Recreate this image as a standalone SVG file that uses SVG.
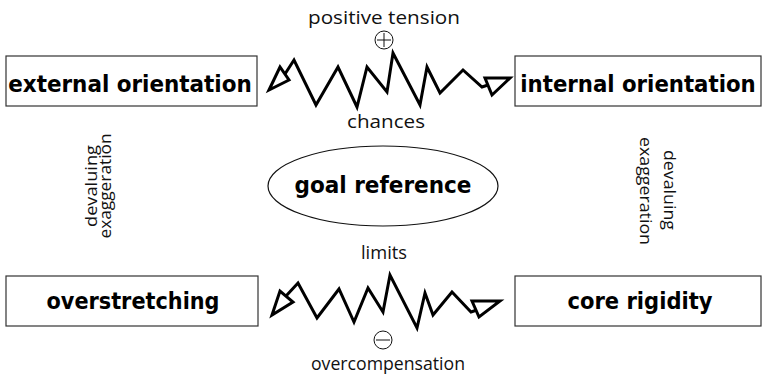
<svg xmlns="http://www.w3.org/2000/svg" width="764" height="377" viewBox="0 0 764 377">
<style>
.box{fill:#fff;stroke:#333;stroke-width:1.2}
.b{font-family:"DejaVu Sans",sans-serif;font-weight:bold;font-size:23px;fill:#000}
.t{font-family:"Open Sans","DejaVu Sans",sans-serif;font-weight:400;font-size:19px;fill:#111}
.v{font-family:"Open Sans","DejaVu Sans",sans-serif;font-weight:400;font-size:17px;fill:#111}
.zz{fill:none;stroke:#000;stroke-width:3;stroke-linejoin:miter}
.ah{fill:#fff;stroke:#000;stroke-width:3;stroke-linejoin:miter}
.sym{fill:none;stroke:#111;stroke-width:1}
</style>
<rect width="764" height="377" fill="#fff"/>
<g id="external-orientation">
<rect class="box" x="6" y="56" width="251" height="50"/>
<text class="b" transform="translate(130,92) scale(0.82,1)" x="0" y="0" text-anchor="middle" textLength="297" lengthAdjust="spacingAndGlyphs">external orientation</text>
</g>
<g id="internal-orientation">
<rect class="box" x="515" y="56" width="246" height="50"/>
<text class="b" transform="translate(638,92) scale(0.82,1)" x="0" y="0" text-anchor="middle" textLength="287" lengthAdjust="spacingAndGlyphs">internal orientation</text>
</g>
<g id="overstretching">
<rect class="box" x="6" y="276" width="252" height="50"/>
<text class="b" x="133" y="309" text-anchor="middle" textLength="173" lengthAdjust="spacingAndGlyphs">overstretching</text>
</g>
<g id="core-rigidity">
<rect class="box" x="515" y="276" width="246" height="50"/>
<text class="b" x="640" y="309" text-anchor="middle" textLength="145" lengthAdjust="spacingAndGlyphs">core rigidity</text>
</g>
<g id="goal-reference">
<ellipse cx="383" cy="186" rx="115" ry="40" fill="#fff" stroke="#111" stroke-width="1.2"/>
<text class="b" x="383" y="193" text-anchor="middle" textLength="177" lengthAdjust="spacingAndGlyphs">goal reference</text>
</g>
<g id="connectors">
<polyline class="zz" points="285,74 294,60 316,105 338,67 357,107 367,67 387,92 393,53 420,105 427,67 440,93 463,70 482,87 488,85"/>
<polygon class="ah" points="269,90 280,67 289,80"/>
<polygon class="ah" points="485,78 510,78 492,95"/>
<polyline class="zz" points="286,296 298,283 317,318 339,289 354,322 368,288 383,312 390,275 417,328 425,293 433,315 452,292 471,312 477,310"/>
<polygon class="ah" points="272,315 280,291 293,302"/>
<polygon class="ah" points="472,301 500,301 479,317"/>
</g>
<g id="labels">
<text class="t" x="384" y="24" text-anchor="middle" textLength="152" lengthAdjust="spacingAndGlyphs">positive tension</text>
<circle class="sym" cx="384" cy="40" r="9"/>
<path class="sym" d="M384 33V47M377 40H391"/>
<text class="t" x="386" y="128" text-anchor="middle" textLength="78" lengthAdjust="spacingAndGlyphs">chances</text>
<text class="t" x="384" y="259" text-anchor="middle" textLength="46" lengthAdjust="spacingAndGlyphs">limits</text>
<circle class="sym" cx="383" cy="340" r="9"/>
<path class="sym" d="M376 340H390"/>
<text class="t" x="388" y="370" text-anchor="middle" textLength="154" lengthAdjust="spacingAndGlyphs">overcompensation</text>
<text class="v" transform="translate(97,186) rotate(-90)" text-anchor="middle" textLength="82" lengthAdjust="spacingAndGlyphs">devaluing</text>
<text class="v" transform="translate(111,186) rotate(-90)" text-anchor="middle" textLength="105" lengthAdjust="spacingAndGlyphs">exaggeration</text>
<text class="v" transform="translate(664,190) rotate(90)" text-anchor="middle" textLength="80" lengthAdjust="spacingAndGlyphs">devaluing</text>
<text class="v" transform="translate(640,191) rotate(90)" text-anchor="middle" textLength="108" lengthAdjust="spacingAndGlyphs">exaggeration</text>
</g>
</svg>
